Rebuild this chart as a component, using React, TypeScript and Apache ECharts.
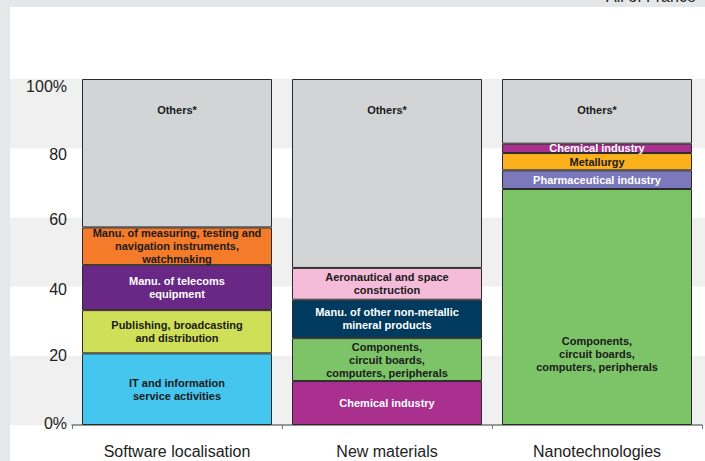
import React, { useEffect, useRef } from "react";
import * as echarts from "echarts";

const categories = ["Software localisation", "New materials", "Nanotechnologies"];
const yTickLabels = ["0%", "20", "40", "60", "80", "100%"];

const softwareSegments = [
  "IT and information\nservice activities",
  "Publishing, broadcasting\nand distribution",
  "Manu. of telecoms\nequipment",
  "Manu. of measuring, testing and\nnavigation instruments,\nwatchmaking",
  "Others*",
];
const softwareValues = [20.7, 12.5, 13.0, 10.9, 42.9];

const materialsSegments = [
  "Chemical industry",
  "Components,\ncircuit boards,\ncomputers, peripherals",
  "Manu. of other non-metallic\nmineral products",
  "Aeronautical and space\nconstruction",
  "Others*",
];
const materialsValues = [12.7, 12.4, 11.1, 9.2, 54.6];

const nanoSegments = [
  "Components,\ncircuit boards,\ncomputers, peripherals",
  "Pharmaceutical industry",
  "Metallurgy",
  "Chemical industry",
  "Others*",
];
const nanoValues = [68.2, 5.4, 5.0, 2.7, 18.7];

const segmentStyles: Record<string, { fill: string; text: string }> = {
  "IT and information\nservice activities": { fill: "#45c6ee", text: "#1a1a1a" },
  "Publishing, broadcasting\nand distribution": { fill: "#cfdf57", text: "#1a1a1a" },
  "Manu. of telecoms\nequipment": { fill: "#6a2886", text: "#ffffff" },
  "Manu. of measuring, testing and\nnavigation instruments,\nwatchmaking": { fill: "#f47b2a", text: "#1a1a1a" },
  "Others*": { fill: "#d3d4d6", text: "#1a1a1a" },
  "Chemical industry": { fill: "#a9308f", text: "#ffffff" },
  "Components,\ncircuit boards,\ncomputers, peripherals": { fill: "#7dc468", text: "#1a1a1a" },
  "Manu. of other non-metallic\nmineral products": { fill: "#003a5e", text: "#ffffff" },
  "Aeronautical and space\nconstruction": { fill: "#f4bcd9", text: "#1a1a1a" },
  "Pharmaceutical industry": { fill: "#7b78bb", text: "#ffffff" },
  "Metallurgy": { fill: "#fbb11c", text: "#1a1a1a" },
};

const bars = [
  { labels: softwareSegments, values: softwareValues },
  { labels: materialsSegments, values: materialsValues },
  { labels: nanoSegments, values: nanoValues },
];

const LABEL_FONT = "'Liberation Sans', Arial, sans-serif";
const AXIS_FONT = "'Liberation Sans', Arial, sans-serif";

export default function App() {
  const ref = useRef<HTMLDivElement>(null);

  useEffect(() => {
    document.body.style.margin = "0";
    if (!ref.current) return;
    const chart = echarts.init(ref.current, null, { renderer: "svg" });

    const layers = [0, 1, 2, 3, 4].map((layer) => ({
      type: "bar",
      stack: "total",
      xAxisIndex: 0,
      yAxisIndex: 0,
      barWidth: 190,
      data: bars.map((b, bi) => {
        const name = b.labels[layer];
        const st = segmentStyles[name];
        const isOthers = name === "Others*";
        const isNanoComp = bi === 2 && layer === 0;
        return {
          value: b.values[layer],
          name,
          itemStyle: { color: st.fill, borderColor: "#2a2a2a", borderWidth: 1 },
          label: {
            show: true,
            formatter: name,
            color: st.text,
            position: isOthers ? "insideTop" : "inside",
            distance: isOthers ? 24 : 5,
            offset: isNanoComp ? [0, 47] : [0, 0],
            fontSize: 11,
            lineHeight: 13,
            fontWeight: "bold",
            fontFamily: LABEL_FONT,
            align: "center",
          },
        };
      }),
    }));

    // small vertical nudges of the y tick labels, as in the reference
    const yLabelPad: Record<string, number[]> = {
      "0%": [0, 0, 4, 0],
      "20": [0, 0, 0, 0],
      "40": [6, 0, 0, 0],
      "60": [5, 0, 0, 0],
      "80": [12, 0, 0, 0],
      "100%": [15, 0, 0, 0],
    };
    const rich: Record<string, any> = {};
    yTickLabels.forEach((t, i) => {
      rich["t" + i] = { fontSize: 16, color: "#222", fontFamily: AXIS_FONT, padding: yLabelPad[t] };
    });

    chart.setOption({
      animation: false,
      backgroundColor: "#ffffff",
      grid: [
        { left: 72, right: 3, top: 79, bottom: 36, containLabel: false },
        { left: 10, right: 0, top: 79, bottom: 36, containLabel: false },
      ],
      xAxis: [
        {
          type: "category",
          gridIndex: 0,
          data: categories,
          axisLine: { show: true, lineStyle: { color: "#7a7a7a", width: 1.5 } },
          axisTick: { show: true, length: 4, lineStyle: { color: "#7a7a7a" } },
          axisLabel: { fontSize: 16, color: "#222", margin: 18, fontFamily: AXIS_FONT },
        },
        { type: "value", gridIndex: 1, show: false, min: 0, max: 1 },
      ],
      yAxis: [
        {
          type: "value",
          gridIndex: 0,
          min: 0,
          max: 100,
          interval: 20,
          axisLine: { show: false },
          axisTick: { show: false },
          splitLine: { show: false },
          axisLabel: {
            fontSize: 16,
            color: "#222",
            margin: 5,
            fontFamily: AXIS_FONT,
            formatter: (v: number) => {
              const i = Math.round(v / 20);
              return "{t" + i + "|" + yTickLabels[i] + "}";
            },
            rich,
          },
        },
        {
          type: "value",
          gridIndex: 1,
          min: 0,
          max: 100,
          interval: 20,
          axisLine: { show: false },
          axisTick: { show: false },
          axisLabel: { show: false },
          splitLine: { show: false },
          splitArea: { show: true, areaStyle: { color: ["#f0f0f0", "#ffffff"] } },
        },
      ],
      graphic: [
        { type: "rect", left: 0, top: 0, shape: { width: 705, height: 7 }, style: { fill: "#e6e7e9" }, z: 10 },
        { type: "rect", left: 0, top: 0, shape: { width: 10, height: 461 }, style: { fill: "#e6e7e9" }, z: 10 },
        {
          type: "text",
          x: 606,
          y: 4,
          z: 11,
          style: {
            text: "All of France",
            fontSize: 16,
            fontFamily: AXIS_FONT,
            fill: "#222",
            verticalAlign: "bottom",
          },
        },
      ],
      series: layers,
    });

    return () => chart.dispose();
  }, []);

  return <div ref={ref} style={{ width: 705, height: 461 }} />;
}
